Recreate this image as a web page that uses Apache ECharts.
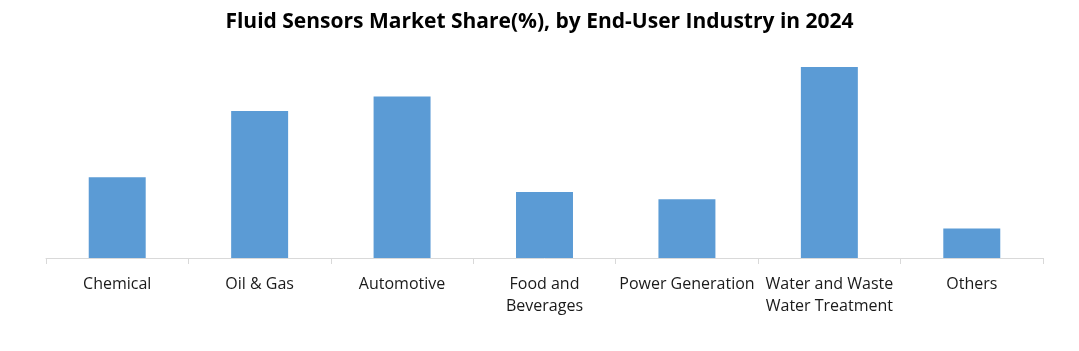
<!DOCTYPE html>
<html>
<head>
<meta charset="utf-8">
<script src="https://cdn.jsdelivr.net/npm/echarts@6/dist/echarts.min.js"></script>
<style>
  html, body { margin: 0; padding: 0; background: #fff; }
  #chart { width: 1079px; height: 351px; }
</style>
</head>
<body>
<div id="chart"></div>
<script>
// 各行业份额（%），按图上柱高估算
var categories = ['Chemical', 'Oil & Gas', 'Automotive', 'Food and\nBeverages', 'Power Generation', 'Water and Waste\nWater Treatment', 'Others'];
var shareValues = [11, 20, 22, 9, 8, 26, 4];

var myChart = echarts.init(document.getElementById('chart'));
var option = {
    animation: false,
    title: {
        text: 'Fluid Sensors Market Share(%), by End-User Industry in 2024',
        left: 'center',
        top: 7,
        textStyle: {
            fontFamily: 'Open Sans',
            fontWeight: 'bold',
            fontSize: 21,
            color: '#000'
        }
    },
    grid: {
        left: 46,
        right: 36,
        top: 67,
        bottom: 93
    },
    xAxis: {
        type: 'category',
        data: categories,
        axisLine: { lineStyle: { color: '#D9D9D9', width: 1 } },
        axisTick: { show: true, length: 6, lineStyle: { color: '#D9D9D9' } },
        axisLabel: {
            margin: 15,
            fontFamily: 'Open Sans',
            fontSize: 16,
            lineHeight: 22,
            color: '#1a1a1a',
            interval: 0
        }
    },
    yAxis: {
        type: 'value',
        min: 0,
        max: 26,
        show: false
    },
    series: [{
        type: 'bar',
        data: shareValues,
        barWidth: '40%',
        itemStyle: { color: '#5B9BD5' }
    }]
};
myChart.setOption(option);
</script>
</body>
</html>
